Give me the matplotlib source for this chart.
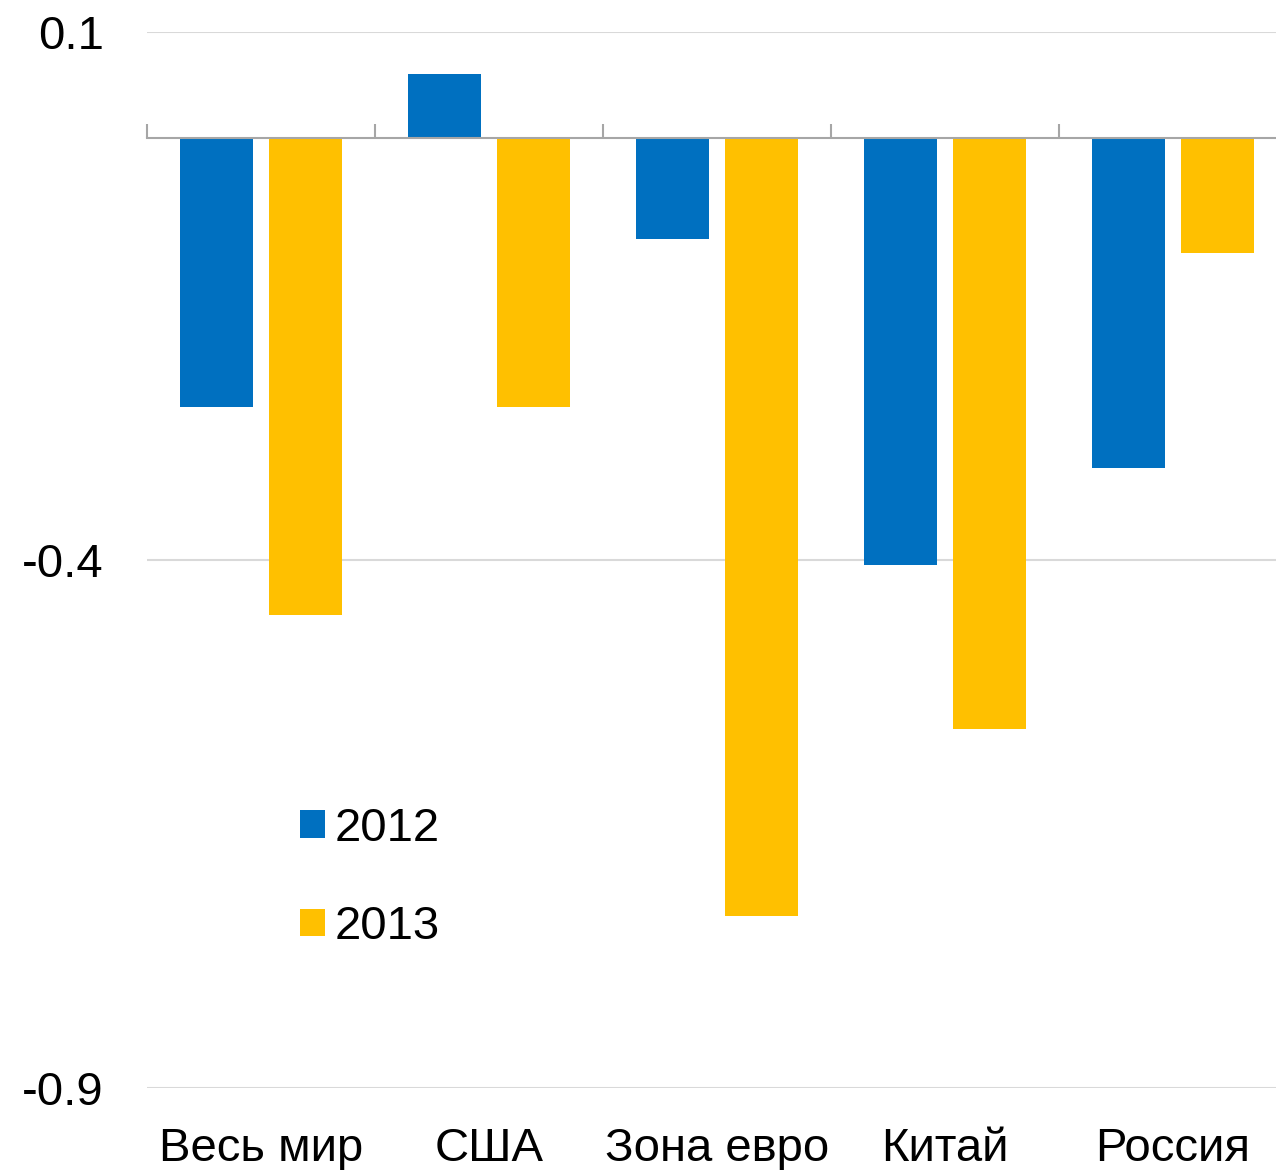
import numpy as np
import matplotlib
matplotlib.use("Agg")
import matplotlib.pyplot as plt
from matplotlib.transforms import blended_transform_factory

plt.rcParams["font.family"] = ["Liberation Sans", "DejaVu Sans"]

categories = ["Весь мир", "США", "Зона евро", "Китай", "Россия"]
series_2012 = [-0.255, 0.06, -0.096, -0.405, -0.313]
series_2013 = [-0.452, -0.255, -0.737, -0.56, -0.109]
series_labels = ["2012", "2013"]
yticks = [0.1, -0.4, -0.9]
ytick_labels = ["0.1", "-0.4", "-0.9"]

BLUE = "#0070C0"
YELLOW = "#FFC000"
FS = 34

W, H = 1276, 1170
fig = plt.figure(figsize=(W / 100, H / 100), dpi=100)
ax = fig.add_axes([147 / W, 1 - 1088 / H, (1287 - 147) / W, (1088 - 32) / H])

x = np.arange(len(categories))
bw = 0.32
off = 0.195
ax.bar(x - off, series_2012, bw, color=BLUE, label=series_labels[0], zorder=3)
ax.bar(x + off, series_2013, bw, color=YELLOW, label=series_labels[1], zorder=3)

ax.set_xlim(-0.5, len(categories) - 0.5)
ax.set_ylim(-0.9, 0.1)

# y axis: labels only, light gridlines
ax.set_yticks(yticks)
ax.set_yticklabels(ytick_labels, fontsize=FS)
ax.tick_params(axis="y", length=0, pad=31)
ax.grid(axis="y", color="#d9d9d9", linewidth=1.5, zorder=0)

for s in ["left", "right", "top"]:
    ax.spines[s].set_visible(False)

# category axis sits on zero, tick marks at group boundaries
ax.spines["bottom"].set_position(("data", 0))
ax.spines["bottom"].set_color("#a6a6a6")
ax.spines["bottom"].set_linewidth(1.5)
ax.spines["bottom"].set_zorder(4)
ax.set_xticks(np.arange(len(categories) + 1) - 0.5)
ax.tick_params(axis="x", direction="in", length=10, width=1.5,
               color="#a6a6a6", labelbottom=False)

trans = blended_transform_factory(ax.transData, ax.transAxes)
for i, name in enumerate(categories):
    ax.text(i, -0.058, name, transform=trans, ha="center", va="center",
            fontsize=FS, clip_on=False)

leg = ax.legend(loc="upper left", bbox_to_anchor=(300 / W, 1 - 807 / H),
                bbox_transform=fig.transFigure, frameon=False, fontsize=FS,
                handlelength=0.53, handleheight=0.53, handletextpad=0.2,
                labelspacing=1.15, borderpad=0, borderaxespad=0)

fig.savefig("out.png", dpi=100)
